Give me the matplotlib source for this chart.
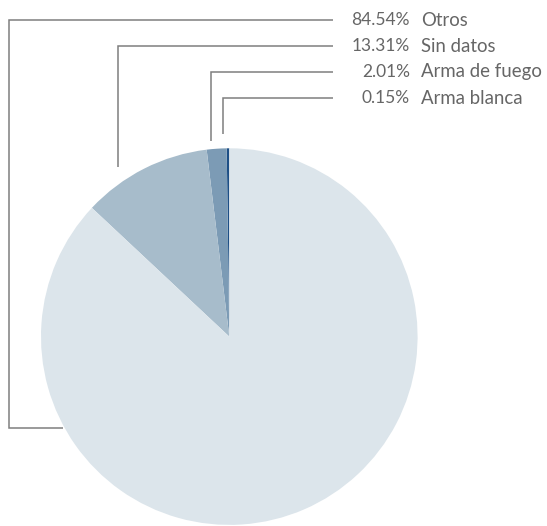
import matplotlib
matplotlib.use("Agg")
import matplotlib.pyplot as plt

# ---- data ----
categories = ["Arma blanca", "Arma de fuego", "Sin datos", "Otros"]
percent_labels = ["0.15%", "2.01%", "13.31%", "84.54%"]
# slice shares as drawn in the reference picture
slice_shares = [0.22, 1.7, 11.1, 86.98]
colors = ["#1d4f86", "#7c9bb5", "#a7bccb", "#dce5eb"]

W, H = 547, 526
fig = plt.figure(figsize=(W / 100, H / 100), dpi=100)
ax = fig.add_axes([0, 0, 1, 1])

cx, cy, r = 229.3, 336.6, 188.3
ax.pie(slice_shares, colors=colors, startangle=270, counterclock=False,
       center=(cx, cy), radius=r, wedgeprops=dict(linewidth=0))
ax.set_xlim(0, W)
ax.set_ylim(H, 0)
ax.set_aspect("equal")
ax.axis("off")

# ---- labels with leader lines (pixel layout) ----
line_color = "#7f7f7f"
text_color = "#666666"
lw = 1.1
row_y = {"Otros": 20, "Sin datos": 46, "Arma de fuego": 72, "Arma blanca": 98}
line_end_x = 333
pct_right_x = 410
name_left_x = 421

# leader geometry: (vertical x, bottom y, optional horizontal end x)
leaders = {
    "Otros": (9, 428, 63),
    "Sin datos": (118, 167, None),
    "Arma de fuego": (211, 141, None),
    "Arma blanca": (223, 134, None),
}

for cat, pct in zip(categories, percent_labels):
    y = row_y[cat]
    vx, vb, hx = leaders[cat]
    xs = [line_end_x, vx, vx]
    ys = [y, y, vb]
    if hx is not None:
        xs.append(hx)
        ys.append(vb)
    ax.plot(xs, ys, color=line_color, lw=lw, solid_joinstyle="miter",
            solid_capstyle="butt", clip_on=False)
    ax.text(pct_right_x, y, pct, ha="right", va="center", fontsize=12.5,
            family="Lato", fontweight="normal", color=text_color)
    ax.text(name_left_x, y, cat, ha="left", va="center", fontsize=13.4,
            family="Lato", fontweight="normal", color=text_color)

fig.savefig("out.png", dpi=100)
